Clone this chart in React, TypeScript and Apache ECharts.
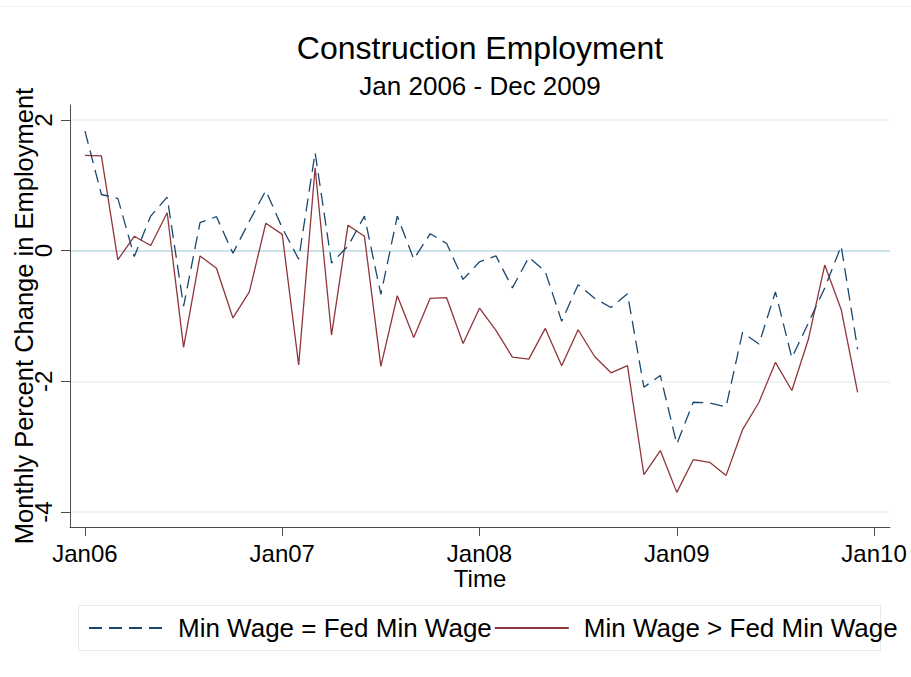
import React, { useEffect, useRef } from "react";
import * as echarts from "echarts";

const FONT = "'Liberation Sans', Arial, Helvetica, sans-serif";

// Month index 0 = Jan 2006 ... 47 = Dec 2009
const xTickValues = [0, 12, 24, 36, 48];
const xTickLabels = ["Jan06", "Jan07", "Jan08", "Jan09", "Jan10"];
const yTickValues = [-4, -2, 0, 2];
const seriesNames = ["Min Wage = Fed Min Wage", "Min Wage > Fed Min Wage"];

// Monthly percent change, states with min wage = federal min wage
const minWageEqualFed = [
  1.83, 0.86, 0.8, -0.09, 0.53, 0.82, -0.85, 0.43, 0.52, -0.04, 0.45, 0.92,
  0.35, -0.13, 1.5, -0.19, 0.07, 0.53, -0.67, 0.53, -0.13, 0.26, 0.11, -0.44,
  -0.17, -0.08, -0.57, -0.1, -0.32, -1.08, -0.52, -0.73, -0.87, -0.66, -2.09, -1.91,
  -2.96, -2.32, -2.33, -2.39, -1.25, -1.43, -0.63, -1.64, -1.11, -0.57, 0.07, -1.51,
];

// Monthly percent change, states with min wage > federal min wage
const minWageAboveFed = [
  1.46, 1.45, -0.14, 0.22, 0.08, 0.58, -1.48, -0.08, -0.27, -1.03, -0.63, 0.42,
  0.25, -1.75, 1.27, -1.29, 0.39, 0.22, -1.77, -0.69, -1.33, -0.73, -0.72, -1.42,
  -0.88, -1.22, -1.63, -1.66, -1.19, -1.76, -1.21, -1.62, -1.87, -1.76, -3.43, -3.06,
  -3.7, -3.2, -3.24, -3.44, -2.74, -2.32, -1.71, -2.14, -1.36, -0.22, -0.9, -2.17,
];

const BLUE = "#1a476f";
const RED = "#90353b";
const AXIS = "#4d4d4d";

export default function App() {
  const ref = useRef<HTMLDivElement>(null);

  useEffect(() => {
    const chart = echarts.init(ref.current as HTMLDivElement, null, { renderer: "svg" });
    const toPairs = (vals: number[]) => vals.map((v, i) => [i, v]);

    chart.setOption({
      animation: false,
      backgroundColor: "#ffffff",
      textStyle: { fontFamily: FONT },
      title: [
        {
          text: "Construction Employment",
          left: 480,
          top: 32,
          textAlign: "center",
          padding: 0,
          textStyle: { fontFamily: FONT, fontSize: 32, fontWeight: "normal", color: "#000" },
        },
        {
          text: "Jan 2006 - Dec 2009",
          left: 480,
          top: 73,
          textAlign: "center",
          padding: 0,
          textStyle: { fontFamily: FONT, fontSize: 26, fontWeight: "normal", color: "#000" },
        },
      ],
      grid: { left: 70, right: 21, top: 105, bottom: 150, containLabel: false, outerBoundsMode: "none" },
      xAxis: {
        type: "value",
        min: -0.91,
        max: 48.97,
        name: "Time",
        nameLocation: "middle",
        nameGap: 39,
        nameMoveOverlap: false,
        nameTextStyle: { fontFamily: FONT, fontSize: 24, color: "#000" },
        axisLine: { show: true, onZero: false, lineStyle: { color: AXIS, width: 1 } },
        axisTick: { show: true, length: 9, customValues: xTickValues, lineStyle: { color: AXIS, width: 1 } },
        axisLabel: {
          customValues: xTickValues,
          formatter: (v: number) => xTickLabels[xTickValues.indexOf(Math.round(v))] ?? "",
          fontFamily: FONT,
          fontSize: 24,
          color: "#000",
          margin: 14,
          hideOverlap: false,
        },
        splitLine: { show: false },
      },
      yAxis: {
        type: "value",
        min: -4.23,
        max: 2.23,
        name: "Monthly Percent Change in Employment",
        nameLocation: "middle",
        nameGap: 33,
        nameMoveOverlap: false,
        nameTextStyle: { fontFamily: FONT, fontSize: 25.5, color: "#000" },
        axisLine: { show: true, onZero: false, lineStyle: { color: AXIS, width: 1 } },
        axisTick: { show: true, length: 9, customValues: yTickValues, lineStyle: { color: AXIS, width: 1 } },
        axisLabel: {
          customValues: yTickValues,
          rotate: 90,
          fontFamily: FONT,
          fontSize: 24,
          color: "#000",
          margin: 15,
        },
        splitLine: {
          show: true,
          lineStyle: { color: ["#e8f0f3", "#e8f0f3", "#bcd7e3", "#e8f0f3"], width: 1.5 },
        },
      },
      legend: {
        data: seriesNames,
        left: 88,
        top: 615,
        padding: 0,
        itemWidth: 74,
        itemHeight: 14,
        itemGap: 2,
        itemStyle: { opacity: 0, borderWidth: 0 },
        textStyle: { fontFamily: FONT, fontSize: 26, color: "#000", padding: [0, 0, 0, 10] },
      },
      series: [
        {
          name: seriesNames[0],
          type: "line",
          data: toPairs(minWageEqualFed),
          symbol: "none",
          showSymbol: false,
          itemStyle: { color: BLUE },
          lineStyle: { color: BLUE, width: 1.3, type: [13, 7] },
          z: 3,
        },
        {
          name: seriesNames[1],
          type: "line",
          data: toPairs(minWageAboveFed),
          symbol: "none",
          showSymbol: false,
          itemStyle: { color: RED },
          lineStyle: { color: RED, width: 1.3 },
          z: 2,
        },
      ],
      graphic: [
        {
          type: "rect",
          silent: true,
          z: -1,
          shape: { x: 78.5, y: 605.5, width: 802, height: 45 },
          style: { fill: "none", stroke: "#e3ecef", lineWidth: 1 },
        },
        {
          type: "line",
          silent: true,
          shape: { x1: 0, y1: 6.5, x2: 911, y2: 6.5 },
          style: { stroke: "#eef3f4", lineWidth: 1 },
        },
      ],
    });

    return () => chart.dispose();
  }, []);

  return (
    <div
      ref={ref}
      style={{ position: "fixed", left: 0, top: 0, width: 911, height: 677, background: "#fff" }}
    />
  );
}
